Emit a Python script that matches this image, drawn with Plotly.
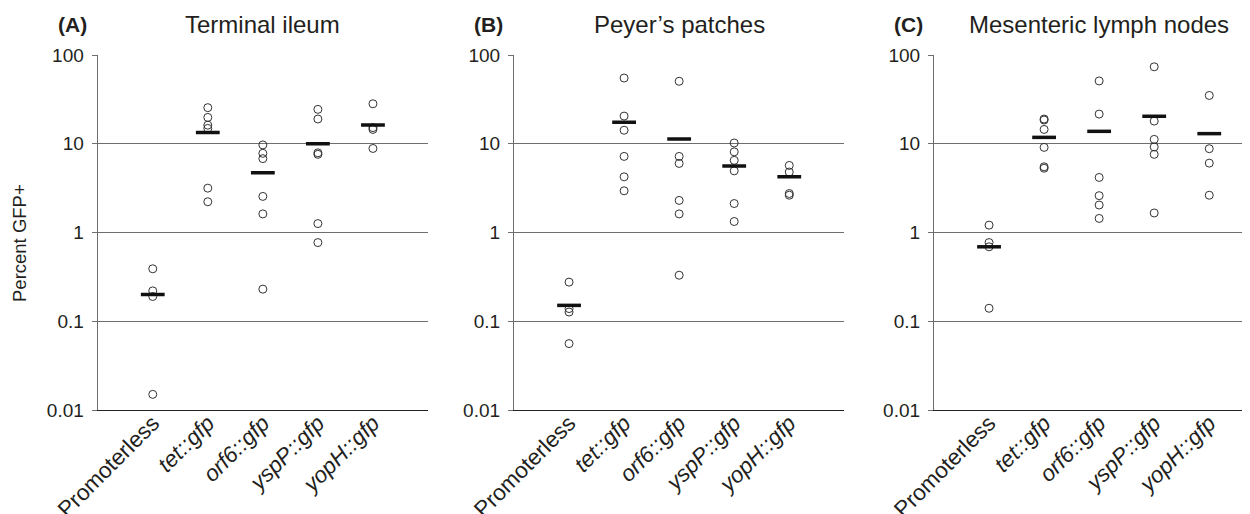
import plotly.graph_objects as go

# ---------------- data ----------------
categories = ["Promoterless", "tet::gfp", "orf6::gfp", "yspP::gfp", "yopH::gfp"]
tick_labels = ["Promoterless", "<i>tet::gfp</i>", "<i>orf6::gfp</i>",
               "<i>yspP::gfp</i>", "<i>yopH::gfp</i>"]
panel_titles = ["Terminal ileum", "Peyer\u2019s patches", "Mesenteric lymph nodes"]
panel_letters = ["(A)", "(B)", "(C)"]
y_tickvals = [0.01, 0.1, 1, 10, 100]
y_ticktext = ["0.01", "0.1", "1", "10", "100"]

# Panel A - Terminal ileum
A_prom = [0.39, 0.22, 0.19, 0.015]
A_tet = [25.5, 19.8, 16.2, 14.9, 3.16, 2.22]
A_orf6 = [9.7, 7.8, 6.8, 2.55, 1.62, 0.23]
A_yspP = [24.4, 19.0, 7.9, 7.6, 1.26, 0.77]
A_yopH = [28.2, 15.2, 14.5, 8.85]
A_median = [0.20, 13.4, 4.7, 10.0, 16.3]

# Panel B - Peyer's patches
B_prom = [0.276, 0.139, 0.127, 0.056]
B_tet = [55.0, 20.5, 14.2, 7.2, 4.24, 2.95]
B_orf6 = [50.6, 7.2, 6.0, 2.3, 1.62, 0.33]
B_yspP = [10.2, 8.1, 6.5, 4.95, 2.12, 1.33]
B_yopH = [5.7, 4.8, 2.75, 2.63]
B_median = [0.151, 17.5, 11.3, 5.6, 4.24]

# Panel C - Mesenteric lymph nodes
C_prom = [1.21, 0.77, 0.69, 0.14]
C_tet = [19.0, 18.5, 14.5, 9.1, 5.5, 5.3]
C_orf6 = [51.0, 21.6, 4.17, 2.6, 2.04, 1.44]
C_yspP = [73.6, 18.0, 11.2, 9.2, 7.6, 1.66]
C_yopH = [35.0, 8.8, 6.05, 2.63]
C_median = [0.69, 11.8, 13.8, 20.4, 13.0]

panels = [
    ([A_prom, A_tet, A_orf6, A_yspP, A_yopH], A_median),
    ([B_prom, B_tet, B_orf6, B_yspP, B_yopH], B_median),
    ([C_prom, C_tet, C_orf6, C_yspP, C_yopH], C_median),
]

# ---------------- layout constants ----------------
W, H = 1250, 514
OFF = 8.0  # page body margin offset
FONT = "Liberation Sans, Arial, Helvetica, sans-serif"
TXT = "#231f20"
STEP = 55.05
x_left = [97.7 - OFF, 514.0 - OFF, 934.0 - OFF]
x_domains = [[x_left[0] / W, (x_left[0] + 6 * STEP) / W],
             [x_left[1] / W, (x_left[1] + 6 * STEP) / W],
             [x_left[2] / W, 1.0]]
x_ranges = [[-1, 5], [-1, 5], [-1, (W - x_left[2]) / STEP - 1]]
y_domain = [1 - (410.0 - OFF) / H, 1 - (55.0 - OFF) / H]

fig = go.Figure()

for p, (groups, med) in enumerate(panels):
    xa = "x" if p == 0 else f"x{p+1}"
    ya = "y" if p == 0 else f"y{p+1}"
    xs, ys = [], []
    for cat, vals in zip(categories, groups):
        xs += [cat] * len(vals)
        ys += vals
    fig.add_trace(go.Scatter(
        x=xs, y=ys, mode="markers", xaxis=xa, yaxis=ya, showlegend=False,
        marker=dict(symbol="circle-open", size=8, color="#333333",
                    line=dict(width=1, color="#333333")),
        hoverinfo="x+y"))
    fig.add_trace(go.Scatter(
        x=categories, y=med, mode="markers", xaxis=xa, yaxis=ya, showlegend=False,
        marker=dict(symbol="line-ew", size=17, color="#111111",
                    line=dict(width=3.5, color="#111111")),
        hoverinfo="x+y"))

layout = dict(
    width=W, height=H,
    margin=dict(l=0, r=0, t=0, b=0, autoexpand=False),
    paper_bgcolor="white", plot_bgcolor="white",
    font=dict(family=FONT, color=TXT),
    showlegend=False,
)

annotations = []
for p in range(3):
    xk = "xaxis" if p == 0 else f"xaxis{p+1}"
    yk = "yaxis" if p == 0 else f"yaxis{p+1}"
    layout[xk] = dict(
        domain=x_domains[p], anchor="y" if p == 0 else f"y{p+1}",
        type="category", categoryorder="array", categoryarray=categories,
        range=x_ranges[p], tickmode="array", tickvals=categories,
        ticktext=tick_labels, tickangle=-45,
        tickfont=dict(family=FONT, size=22.5, color=TXT),
        showgrid=False, zeroline=False,
        showline=True, linecolor="#222222", linewidth=1.3,
        ticks="", fixedrange=True, automargin=False,
        ticklabelstandoff=-10,
    )
    layout[yk] = dict(
        domain=y_domain, anchor="x" if p == 0 else f"x{p+1}",
        type="log", range=[-2, 2],
        tickmode="array", tickvals=y_tickvals, ticktext=y_ticktext,
        tickfont=dict(family=FONT, size=19, color=TXT),
        showgrid=True, gridcolor="#6e6e6e", gridwidth=1.2,
        showline=True, linecolor="#6e6e6e", linewidth=1.2,
        ticks="outside", ticklen=5, tickcolor="#6e6e6e", tickwidth=1.2,
        ticklabelstandoff=4, zeroline=False, fixedrange=True, automargin=False,
    )
    # panel title
    cx = (x_left[p] + 3 * STEP) / W
    annotations.append(dict(
        text=panel_titles[p], xref="paper", yref="paper",
        x=cx, y=1 - (25.0 - OFF) / H, xanchor="center", yanchor="middle",
        showarrow=False, font=dict(family=FONT, size=24, color=TXT)))
    annotations.append(dict(
        text="<b>" + panel_letters[p] + "</b>", xref="paper", yref="paper",
        x=(x_left[p] - 42) / W, y=1 - (25.0 - OFF) / H,
        xanchor="left", yanchor="middle",
        showarrow=False, font=dict(family=FONT, size=21, color=TXT)))

annotations.append(dict(
    text="Percent GFP+", xref="paper", yref="paper",
    x=(20.0 - OFF) / W, y=1 - (243.0 - OFF) / H, xanchor="center", yanchor="middle",
    textangle=-90, showarrow=False,
    font=dict(family=FONT, size=18.5, color=TXT)))

layout["annotations"] = annotations
fig.update_layout(**layout)

fig.write_html("out.html")
